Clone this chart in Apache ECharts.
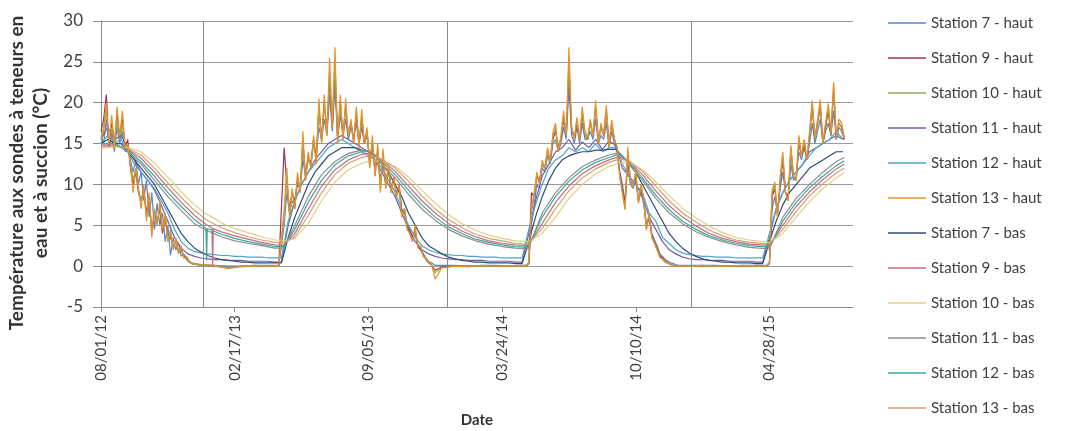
<!DOCTYPE html>
<html lang="fr">
<head>
<meta charset="UTF-8">
<title>Température aux sondes</title>
<script src="https://cdn.jsdelivr.net/npm/echarts@6.0.0/dist/echarts.min.js"></script>
<style>
  html, body { margin: 0; padding: 0; background: #fff; }
  #chart { width: 1076px; height: 431px; }
</style>
</head>
<body>
<div id="chart"></div>
<script>
// axe des x : jours depuis le 08/01/12
var startDate = Date.UTC(2012, 7, 1);
var xTicks = [0, 200, 400, 600, 800, 1000];
var yearLines = [153, 518, 883]; // 1er janvier 2013, 2014, 2015

function range(a, b, step) {
  var out = [];
  for (var d = a; d <= b; d += step) out.push(d);
  return out;
}

// jours des sondes très bruitées (pas fin en été, large en hiver)
var noisyDays = [].concat(
  range(0, 136, 4),
  [150, 170, 190, 210, 230, 250, 266],
  range(274, 494, 4),
  [500, 510, 530, 550, 570, 590, 610, 630, 636],
  range(640, 864, 4),
  [880, 900, 920, 940, 960, 980, 996],
  range(1000, 1112, 4)
);
var midDays = range(0, 1110, 10);
var basDays = [0, 20, 40, 60, 80, 100, 120, 140, 157, 158, 159, 166, 167, 168, 180, 200, 220, 240, 260, 273,
  290, 310, 330, 350, 370, 390, 405, 420, 440, 460, 480, 500, 520, 540, 560, 580, 600, 620, 639, 660,
  680, 700, 720, 740, 760, 775, 790, 810, 830, 850, 870, 890, 910, 930, 950, 970, 1000, 1020, 1040, 1060,
  1080, 1100, 1112];

var seriesNames = ['Station 7 - haut', 'Station 9 - haut', 'Station 10 - haut', 'Station 11 - haut',
  'Station 12 - haut', 'Station 13 - haut', 'Station 7 - bas', 'Station 9 - bas', 'Station 10 - bas',
  'Station 11 - bas', 'Station 12 - bas', 'Station 13 - bas'];

var st7Haut = [
  16,15,18,14.5,16,14,17,15,16.5,14,14.5,13,11.5,13,10,11.5,8,10.5,6,9,4.5,7.7,5,6.5,3,5,1.3,3.5,2,2.8,1.2,1.5,0.8,0.5,0.3,
  0.2,0.1,0,0,0.1,0.1,0.1,
  5,9,6.5,8,7.5,10,9.5,13,11,13,12.5,15,13.5,17,15.5,18,16,21,16.5,22,15.5,18.5,16,18,15.5,17,15.5,17.5,15,17,15,16,13,14.5,12,13.5,10.5,12.5,10,11.5,9.5,10.5,9,9.5,7,6.5,5,4.5,3.5,4,2.5,2,1.5,1,0.6,0.4,
  0.1,0.1,0.1,0,0.1,0.1,0,0.1,0.1,
  0.4,5,7.5,10,9.5,12,11.5,13.5,12.5,15,15.5,14,15,17,15.5,22,16,15,17,15,17.5,15.5,15.5,16.5,15.5,18,15,16,15.5,17.5,14.5,16.5,15,14,11.5,10,8,12.5,10,9.5,10.5,8,9,7.5,5,6,4,3.2,2.5,1.5,1.2,0.8,0.6,0.4,0.3,0.2,0.1,
  0.1,0.1,0.1,0,0.1,0.1,0.1,
  0.4,7,8.5,6.5,9.5,11.5,9,8.5,12.5,10.5,11,14,13,14.5,13,15,17.5,15,16.5,18,15,16.5,17.5,16,19,15.5,17,16.5,15.5
];
var st9Haut = [
  16.5,18,21,14.5,17.5,15,18.5,15.5,18,14.5,15.5,12,10,11.5,9,8,9.5,6.5,8.5,4,6.5,5.5,7,4,6,3.5,3.5,2.5,3,1.8,2,1.2,1,0.5,0.3,
  0.1,0,-0.2,0,0,0,0,
  14.5,10,7,9,8,10.5,9.5,15,11,13.5,12.5,15.5,13,19.5,15.5,20,16.5,23,17,24,15.5,20,16,19.5,16,17.5,15.5,18.5,15,18,15,16.5,12.5,15,11.5,14,10,13.5,10,12,9.5,11,8.5,10,6.5,7,5,4.5,3.5,4.5,2.5,2,1.5,0.8,0.4,0.2,
  -0.5,-0.1,0,0,0,0,0,0,0,
  0.3,9,8.5,11,10.5,12.5,12,14,13,15.5,16.5,14.5,15.5,18,16,24,17,15.5,17.5,15.5,18.5,16,15.5,17.5,16,19.5,15.5,17,16,19,15,17.5,15.5,14.5,11.5,9.5,7.5,13.5,10.5,10,11,8,9.5,8,4.8,6,3.8,3,2.2,1.3,1,0.6,0.4,0.2,0.1,0,0,
  0,0,0,0,0,0,0,
  0.3,8.5,9.5,6.5,10,13,9,8.5,14,11,10.5,15,13.5,15,13,16,19.5,15.5,17.5,19.5,15,17,19,16,21.5,15.5,17.5,17,15.5
];
var st10Haut = [
  15,16.5,19,15,17,14.5,18,15.5,17.5,14.5,14.5,12.5,10.5,12,9.5,8,9,6,8.5,4.5,7,5,7.5,4.5,6,3,4.5,2.2,3,1.6,2.2,1,1,0.6,0.3,
  0.1,0,-0.2,-0.1,0,0,0,
  6,10.5,6.5,9,7,11,9,15.5,10.5,13.5,12,15.5,12.5,19.5,15,20,16,24,17,25,15,20,15.5,19.5,16,17.5,15,19,14.5,18.5,15,16.5,12,15.5,11,14.5,9.5,14,9.5,12,9,10.5,8.5,9.5,6,7,4.5,4,3,4.5,2.2,2.3,1.2,0.9,0.4,0.2,
  -0.8,-0.2,0,0,0,0,0,0,0,
  0.4,6.5,8.5,11,10,12.5,12,14,12.5,16,17,14,15.5,18.5,16,25,17,15.5,18,15.5,19,16,15.5,17.5,16,19.5,15,17,16,19,14.5,17.5,15.5,14.5,11,9,7,14,10.5,9.8,11.5,7.8,10,8,4.5,6.5,3.5,2.8,2,1.1,0.8,0.5,0.3,0.2,0.1,0,0,
  0,0,0,0,0,0,0,
  0.4,9,10,6,10.5,13.5,9,8,14.5,11,10.5,15.5,13.5,15.5,13,16,20,15.5,17.5,20,15,17.5,19.5,16,22,15.5,17.5,17,15.5
];
var st11Haut = [
  15.5,17,15.5,16,14.5,13,11.5,10.5,9.3,7.5,5.5,3.5,2.2,1.5,
  1.2,1.0,0.9,0.8,0.8,0.7,0.7,0.7,0.6,0.6,0.6,0.6,0.5,
  0.5,
  5,8,10,11.5,13,14,15,15.5,16,15.5,15,14.5,14,13,11.5,10,8.5,6.5,4.5,3,2,1.5,
  1.2,1.0,0.9,0.8,0.8,0.7,0.7,0.7,0.6,0.6,0.6,0.6,0.5,0.5,
  4,8,11,12.5,14,14.5,15.5,14.2,15.2,14.5,15.5,14.3,15.3,14.8,12,11,10,8.5,6,4.5,3,2,1.5,1.1,
  0.9,0.8,0.8,0.7,0.7,0.7,0.6,0.6,0.6,0.6,0.5,0.5,
  3.5,7,9,10.5,11.5,12.5,14,14.5,15,15.5,16,15.5
];
var st12Haut = [
  15,16,15,15.5,14,12.5,11.5,10.5,9.5,8,6.5,4.5,3,2.2,
  1.8,1.6,1.5,1.4,1.3,1.3,1.2,1.2,1.1,1.1,1.1,1.0,1.0,
  1.0,
  5.5,8,10,11.5,12.5,13.5,14.5,15,15.5,15,14.5,14,13.5,13,12,10.5,9,7,5,3.5,2.5,2,
  1.7,1.5,1.4,1.3,1.3,1.2,1.2,1.1,1.1,1.1,1.0,1.0,1.0,1.0,
  4.5,7.5,10,12,13,13.5,14.5,14,14.5,14,15,14,14.5,14.5,12.5,11,10,9,6.5,5.5,3.5,2.8,2,1.6,
  1.4,1.3,1.2,1.2,1.1,1.1,1.1,1.0,1.0,1.0,1.0,1.0,
  4,7,9,10.5,11.5,12.5,13.5,14.5,15,15.5,16.5,15.5
];
var st13Haut = [
  15.5,17,20,15,18.5,14.5,19.5,16,19,14.5,15,12.5,9,12,9.5,7,10,5.5,9,3.5,7,5,8,4.5,6.5,3,4,2,3.5,1.5,2.5,1,1.2,0.6,0.4,
  0.2,0.1,-0.3,0,0.1,0,0.1,
  7,12,6,9.5,7,11.5,9,16.5,10.5,14,12,16,12.5,20.5,15,21,16,25.5,17,26.8,15,21,15.5,20.5,16,18,15,19.5,14.5,19.2,15,17,12,16,11,15,9,14.4,9.5,12.6,9,11,8.5,10,6,7,4.5,4,3,5,2.3,2.5,1.2,1,0.5,0.3,
  -1.6,-0.2,0,-0.1,0.1,0,0,0.1,0.1,
  0.5,7,9,11.5,10,13,12,14.5,12.8,16.3,17.5,14,16,19,16,26.8,17,15.5,18.2,15.4,19.5,16.5,15.8,18,16,20.3,15,17.5,16,19.7,14.6,17.9,15.5,14.6,11,9,6.9,14.6,10.5,9.7,11.7,7.7,10,8,4.4,6.5,3.5,2.8,2,1.1,0.9,0.5,0.4,0.2,0.1,0.1,0,
  0,0.1,0,0,0.1,0,0.1,
  0.5,9.3,10.3,6,11,14,9,8,14.8,11,10.5,16,13.5,15.5,13,16.5,20.3,15.8,18,20.4,15,17.5,19.9,16.4,22.5,15.8,18,17.5,15.8
];
var st7Bas = [
  15,15.5,15,15,14,13,12,11,10,8.5,7,5.5,4,3,
  2.2,1.7,1.3,1.0,0.8,0.7,0.6,0.5,0.5,0.4,0.4,0.4,0.4,
  0.4,
  3.5,6,8,10,11.5,12.5,13.5,14,14.5,14.5,14.5,14.2,14,13.5,12.5,11.5,10,8.5,6.5,5,3.5,2.5,
  2,1.5,1.1,0.9,0.7,0.6,0.5,0.5,0.4,0.4,0.4,0.4,0.3,0.3,
  3,6,8.5,10.5,12,13,13.5,13.8,14,14,14.2,14.2,14.3,14.3,13.5,12.5,11.5,10,8.5,7,5.5,4,3,2.2,
  1.6,1.2,0.9,0.7,0.6,0.5,0.5,0.4,0.4,0.4,0.3,0.3,
  3,5.5,7.5,9,10,11,12,12.5,13,13.5,14,14
];
var st9Bas = [14.8,14.8,14.3,13.2,11.5,9.6,7.8,6.2,5.1,5.1,5.0,4.7,0,4.6,4.2,3.7,3.3,2.9,2.6,2.5,
  4,7,9.8,11.8,13,13.7,13.8,13,11.6,9.8,8,6.5,5.2,4.3,3.6,3.1,2.8,2.6,2.5,5.2,
  7.8,9.8,11.3,12.3,13,13.4,12.8,11.2,9.2,7.4,6,4.9,4,3.4,3,2.7,2.5,5,7.3,9.1,
  10.6,11.9,12.5];
var st10Bas = [14.4,14.6,14.5,14,12.6,10.9,9.1,7.5,6.4,6.4,6.3,6,6,5.9,5.3,4.6,4.1,3.6,3.2,3.1,
  3.4,5.2,8,10.3,11.8,12.6,12.9,12.9,12.2,10.9,9.3,7.7,6.3,5.2,4.4,3.8,3.4,3.1,3,4,
  6,8.3,10,11.3,12.2,12.6,12.7,11.8,10.3,8.6,7.1,5.9,4.9,4.1,3.5,3.2,2.9,4,6,7.9,
  9.5,10.8,11.5];
var st11Bas = [15,15,14,12.5,10.5,8.5,6.8,5.2,4.4,4.4,4.4,4.1,4.1,4.0,3.6,3.1,2.8,2.5,2.2,2.2,
  5,8.5,11.2,12.8,13.8,14.2,14,12.5,10.8,8.8,7,5.6,4.5,3.7,3.1,2.7,2.4,2.2,2.1,6.5,
  9,10.8,12.2,13,13.6,13.9,12.5,10.5,8.3,6.5,5.2,4.2,3.5,3,2.6,2.3,2.1,6,8.3,10,
  11.5,12.8,13.3];
var st12Bas = [15,15,14.2,12.8,11,9,7.3,5.7,4.6,0.7,4.6,4.4,4.4,4.3,3.9,3.4,3.0,2.7,2.4,2.4,
  4.5,7.8,10.5,12.4,13.5,14,14,12.8,11.2,9.3,7.5,6,4.8,4,3.3,2.9,2.6,2.4,2.3,6,
  8.5,10.4,11.8,12.7,13.3,13.7,12.7,10.8,8.7,6.9,5.5,4.5,3.7,3.2,2.8,2.5,2.3,5.5,7.8,9.6,
  11,12.3,12.9];
var st13Bas = [14.6,14.7,14.4,13.6,12,10.2,8.4,6.8,5.7,5.7,5.6,5.3,5.3,5.2,4.7,4.1,3.6,3.2,2.9,2.8,
  3.6,6.2,9,11.2,12.6,13.3,13.5,13.1,12,10.4,8.6,7,5.7,4.7,3.9,3.4,3.1,2.8,2.7,4.6,
  7,9.2,10.8,11.9,12.7,13.1,12.9,11.6,9.8,8,6.5,5.4,4.4,3.7,3.2,2.9,2.7,4.5,6.7,8.6,
  10.1,11.4,12];

var seriesValues = [st7Haut, st9Haut, st10Haut, st11Haut, st12Haut, st13Haut,
  st7Bas, st9Bas, st10Bas, st11Bas, st12Bas, st13Bas];
var seriesDays = [noisyDays, noisyDays, noisyDays, midDays, midDays, noisyDays,
  midDays, basDays, basDays, basDays, basDays, basDays];
var seriesColors = ['#5b86c8', '#a3334f', '#8fae52', '#7a5ca6', '#4aa6c8', '#e98f2c',
  '#2f4a78', '#c46e7c', '#e6cc86', '#8d8d8d', '#3ea79e', '#d3a072'];

function fmtDate(day) {
  var d = new Date(startDate + day * 86400000);
  var p = function (n) { return (n < 10 ? '0' : '') + n; };
  return p(d.getUTCMonth() + 1) + '/' + p(d.getUTCDate()) + '/' + p(d.getUTCFullYear() % 100);
}

var series = seriesNames.map(function (name, i) {
  var s = {
    name: name,
    type: 'line',
    data: seriesDays[i].map(function (d, k) { return [d, seriesValues[i][k]]; }),
    symbol: 'none',
    lineStyle: { width: 1.2, color: seriesColors[i] },
    itemStyle: { color: seriesColors[i] },
    z: i === 5 ? 4 : 2
  };
  if (i === 0) {
    s.markLine = {
      silent: true,
      symbol: 'none',
      label: { show: false },
      lineStyle: { color: '#8a8a8a', type: 'solid', width: 1 },
      data: yearLines.map(function (d) { return { xAxis: d }; })
    };
  }
  return s;
});

var chart = echarts.init(document.getElementById('chart'));
chart.setOption({
  animation: false,
  backgroundColor: '#fff',
  textStyle: { fontFamily: 'Lato' },
  grid: { left: 101, right: 223, top: 21, bottom: 124, outerBoundsMode: 'none' },
  legend: {
    orient: 'vertical',
    left: 888,
    top: 14,
    padding: 0,
    icon: 'rect',
    itemWidth: 38,
    itemHeight: 1.5,
    itemGap: 17,
    textStyle: { fontSize: 15, color: '#404040', lineHeight: 18 },
    data: seriesNames
  },
  xAxis: {
    type: 'value',
    min: 0,
    max: 1125,
    interval: 200,
    name: 'Date',
    nameLocation: 'middle',
    nameGap: 106,
    nameTextStyle: { fontSize: 15, fontWeight: 'bold', color: '#333' },
    axisLine: { onZero: false, lineStyle: { color: '#8a8a8a' } },
    axisTick: { show: true, length: 5, lineStyle: { color: '#8a8a8a' }, customValues: xTicks },
    splitLine: { show: false },
    axisLabel: {
      rotate: 90, fontSize: 15, color: '#404040', margin: 8,
      customValues: xTicks,
      formatter: fmtDate
    }
  },
  yAxis: {
    type: 'value',
    min: -5,
    max: 30,
    interval: 5,
    name: 'Température aux sondes à teneurs en\neau et à succion (°C)',
    nameLocation: 'middle',
    nameRotate: 90,
    nameGap: 43,
    nameTextStyle: { fontSize: 19, fontWeight: 'bold', color: '#333', lineHeight: 24, padding: [0, 18, 0, 0] },
    axisLine: { show: true, lineStyle: { color: '#8a8a8a' } },
    axisTick: { show: true, length: 8, lineStyle: { color: '#8a8a8a' } },
    splitLine: { show: true, lineStyle: { color: '#9a9a9a', width: 1 } },
    axisLabel: { fontSize: 17, color: '#404040', margin: 18 }
  },
  series: series
});
</script>
</body>
</html>
